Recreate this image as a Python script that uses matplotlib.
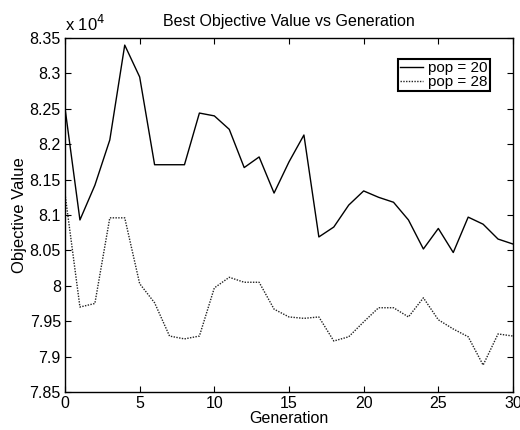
import matplotlib
matplotlib.use('Agg')
import matplotlib.pyplot as plt
from matplotlib.ticker import FuncFormatter, MultipleLocator

plt.rcParams['font.family'] = ['Liberation Sans', 'DejaVu Sans']

# Best objective value per generation (raw values)
generations = list(range(31))
pop20 = [82510, 80930, 81420, 82060, 83400, 82950, 81710, 81710, 81710, 82440,
         82400, 82210, 81670, 81820, 81310, 81750, 82130, 80690, 80830, 81140,
         81340, 81250, 81180, 80930, 80520, 80810, 80470, 80970, 80870, 80660,
         80590]
pop28 = [81300, 79700, 79750, 80960, 80960, 80030, 79760, 79290, 79250, 79290,
         79970, 80120, 80050, 80050, 79670, 79560, 79540, 79560, 79220, 79280,
         79490, 79690, 79690, 79560, 79830, 79520, 79390, 79280, 78880, 79320,
         79290]

fig = plt.figure(figsize=(5.2, 4.3), dpi=100)
ax = fig.add_axes([0.125, 0.0884, 0.8615, 0.8232])

ax.plot(generations, pop20, color='black', linewidth=1.0, label='pop = 20')
ax.plot(generations, pop28, color='#222222', linewidth=1.0,
        linestyle=(0, (1, 1)), label='pop = 28')

ax.set_xlim(0, 30)
ax.set_ylim(78500, 83500)
ax.xaxis.set_major_locator(MultipleLocator(5))
ax.yaxis.set_major_locator(MultipleLocator(500))
ax.yaxis.set_major_formatter(FuncFormatter(lambda v, p: f'{v / 1e4:g}'))
ax.tick_params(direction='in', top=True, right=True, length=4, width=0.8,
               labelsize=11.5, pad=3)
for s in ax.spines.values():
    s.set_linewidth(1.0)

ax.text(0.0, 1.012, r'x 10$^4$', transform=ax.transAxes, fontsize=12,
        ha='left', va='bottom')

ax.set_title('Best Objective Value vs Generation', fontsize=11.5, pad=9)
ax.set_xlabel('Generation', fontsize=11.5, labelpad=0)
ax.set_ylabel('Objective Value', fontsize=12, labelpad=2)

leg = ax.legend(loc='upper right', bbox_to_anchor=(0.949, 0.941), fontsize=11,
                handlelength=1.5, handletextpad=0.35, labelspacing=0.0,
                borderpad=0.15, borderaxespad=0, fancybox=False, framealpha=1)
leg.get_frame().set_edgecolor('black')
leg.get_frame().set_linewidth(1.5)

fig.savefig('out.png', dpi=100)
